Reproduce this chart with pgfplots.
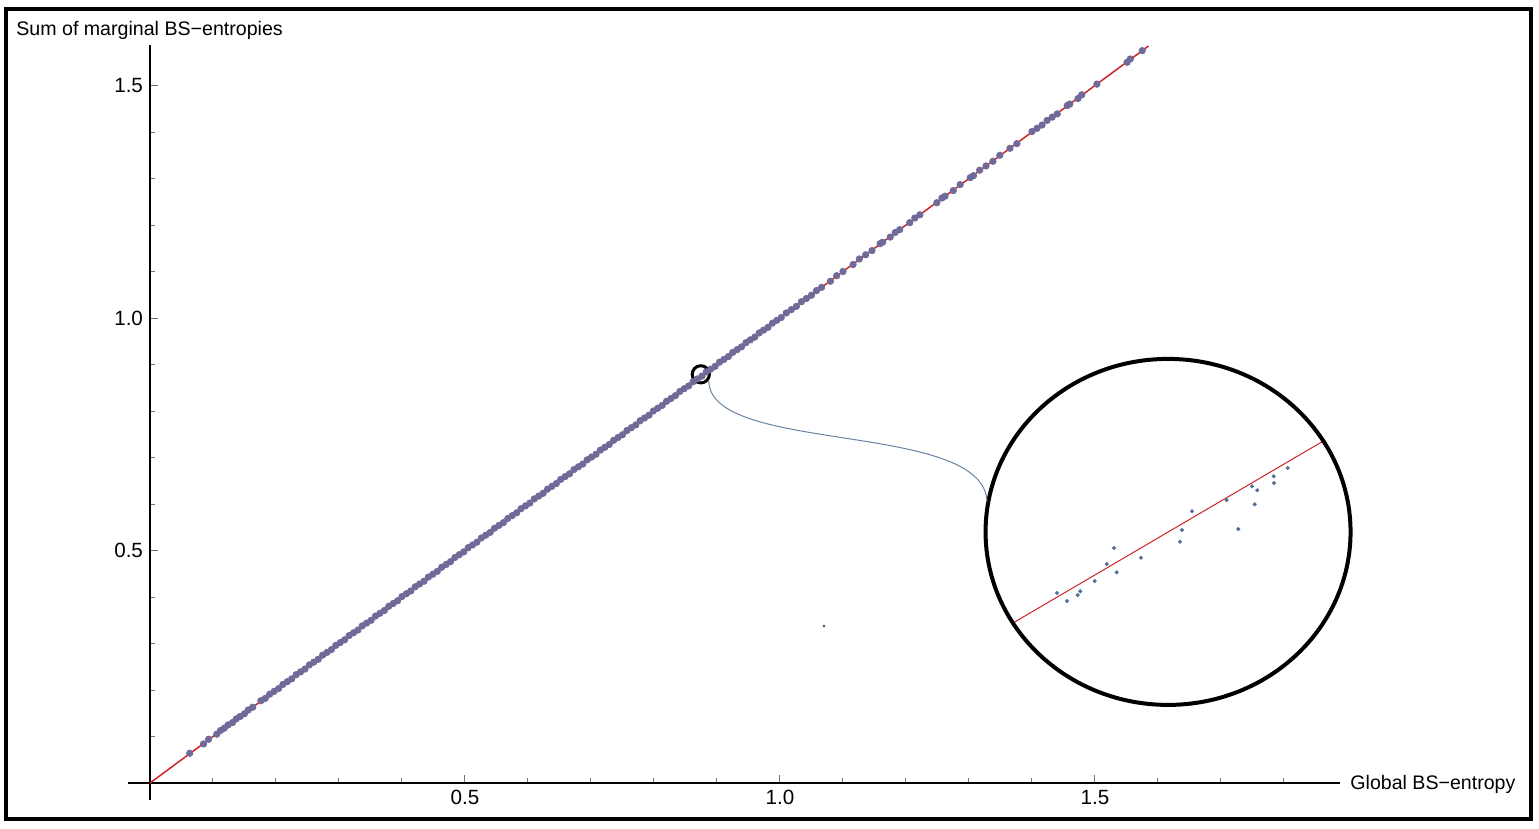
\documentclass[border=0pt]{standalone}
\usepackage{fontspec}
\setmainfont{Liberation Sans}
\usepackage{pgfplots}
\usepackage{pgfplotstable}
\pgfplotsset{compat=1.18}
\definecolor{ptblue}{RGB}{112,106,152}
\definecolor{fitred}{RGB}{206,36,40}
\definecolor{zoomblue}{RGB}{84,112,150}
\definecolor{linkblue}{RGB}{104,132,162}

% points along the diagonal: global vs. sum of marginal entropies
\pgfplotstableread{
x y
0.063 0.064
0.085 0.084
0.093 0.094
0.106 0.105
0.112 0.113
0.118 0.118
0.124 0.125
0.131 0.130
0.137 0.138
0.143 0.143
0.150 0.149
0.156 0.157
0.163 0.163
0.176 0.177
0.183 0.182
0.190 0.191
0.197 0.197
0.204 0.203
0.211 0.212
0.218 0.218
0.225 0.224
0.232 0.233
0.239 0.239
0.246 0.245
0.253 0.254
0.260 0.260
0.267 0.266
0.274 0.275
0.281 0.281
0.288 0.287
0.295 0.296
0.302 0.302
0.309 0.308
0.316 0.317
0.323 0.323
0.330 0.329
0.337 0.338
0.344 0.344
0.351 0.350
0.358 0.359
0.365 0.365
0.372 0.371
0.379 0.380
0.386 0.386
0.393 0.392
0.400 0.401
0.407 0.407
0.414 0.413
0.421 0.422
0.428 0.428
0.435 0.434
0.442 0.443
0.449 0.449
0.456 0.455
0.463 0.464
0.470 0.470
0.477 0.476
0.484 0.485
0.491 0.491
0.498 0.497
0.505 0.506
0.512 0.512
0.519 0.518
0.526 0.527
0.533 0.533
0.540 0.539
0.547 0.548
0.554 0.554
0.561 0.560
0.568 0.569
0.575 0.575
0.582 0.581
0.589 0.590
0.596 0.596
0.603 0.602
0.610 0.611
0.617 0.617
0.624 0.623
0.631 0.632
0.638 0.638
0.645 0.644
0.652 0.653
0.659 0.659
0.666 0.665
0.673 0.674
0.680 0.680
0.687 0.686
0.694 0.695
0.701 0.701
0.708 0.707
0.715 0.716
0.722 0.722
0.729 0.728
0.736 0.737
0.743 0.743
0.750 0.749
0.757 0.758
0.764 0.764
0.771 0.770
0.778 0.779
0.785 0.785
0.792 0.791
0.799 0.800
0.806 0.806
0.813 0.812
0.820 0.821
0.827 0.827
0.834 0.833
0.841 0.842
0.848 0.848
0.855 0.854
0.862 0.863
0.869 0.869
0.876 0.875
0.883 0.884
0.890 0.890
0.897 0.896
0.904 0.905
0.911 0.911
0.918 0.917
0.925 0.926
0.932 0.932
0.939 0.938
0.946 0.947
0.953 0.953
0.960 0.959
0.967 0.968
0.974 0.974
0.981 0.980
0.988 0.989
0.995 0.995
1.002 1.001
1.010 1.011
1.018 1.018
1.026 1.025
1.034 1.035
1.042 1.042
1.050 1.049
1.058 1.059
1.066 1.066
1.080 1.079
1.090 1.091
1.100 1.100
1.116 1.115
1.126 1.127
1.136 1.136
1.146 1.145
1.159 1.160
1.163 1.163
1.175 1.174
1.183 1.184
1.190 1.190
1.206 1.205
1.214 1.215
1.222 1.222
1.249 1.248
1.257 1.258
1.262 1.262
1.275 1.274
1.286 1.287
1.302 1.302
1.307 1.306
1.317 1.318
1.327 1.327
1.338 1.337
1.349 1.350
1.365 1.365
1.376 1.375
1.400 1.401
1.408 1.408
1.416 1.415
1.424 1.425
1.432 1.432
1.440 1.439
1.456 1.457
1.460 1.460
1.473 1.472
1.479 1.480
1.503 1.503
1.551 1.550
1.556 1.557
1.575 1.575
}\diagdata

% magnified view inside the big circle (drawn in the axis coordinates of the inset)
\pgfplotstableread{
x y
1.4397 0.4086
1.4556 0.3914
1.4725 0.4043
1.4767 0.4123
1.4995 0.4344
1.5186 0.4710
1.5302 0.5054
1.5344 0.4531
1.5730 0.4845
1.6349 0.5189
1.6381 0.5441
1.6540 0.5843
1.7090 0.6086
1.7275 0.5462
1.7492 0.6381
1.7576 0.6295
1.7535 0.5994
1.7837 0.6596
1.7841 0.6452
1.8059 0.6774
}\zoomdata

\begin{document}
\begin{tikzpicture}
\begin{axis}[
 x=315pt,y=232.5pt,
 xmin=-0.035,xmax=1.889,ymin=-0.037,ymax=1.587,
 axis lines=middle,axis line style={line width=1pt,-},
 clip=false,
 xtick={0.5,1,1.5},ytick={0.5,1,1.5},
 minor xtick={0.1,0.2,0.3,0.4,0.6,0.7,0.8,0.9,1.1,1.2,1.3,1.4,1.6,1.7,1.8},
 minor ytick={0.1,0.2,0.3,0.4,0.6,0.7,0.8,0.9,1.1,1.2,1.3,1.4},
 tick align=inside,
 major tick length=4pt,minor tick length=2.5pt,
 tick style={black!55,line width=0.5pt},
 tick label style={font=\fontsize{10.3}{12}\selectfont},
 /pgf/number format/.cd,fixed,fixed zerofill,precision=1,assume math mode=true,
]
\addplot[only marks,mark=*,mark size=1.6pt,ptblue,mark options={draw=none,fill=ptblue}] table[x=x,y=y]{\diagdata};
\addplot[fitred,line width=0.75pt] coordinates {(0,0) (1.585,1.585)};

% inset
\addplot[fitred,line width=0.5pt] coordinates {(1.3698,0.3441) (1.8651,0.7376)};
\addplot[only marks,mark=*,mark size=0.8pt,zoomblue,mark options={draw=none,fill=zoomblue}] table[x=x,y=y]{\zoomdata};
\addplot[only marks,mark=*,mark size=0.45pt,black!70,mark options={draw=none}] coordinates {(1.0698,0.3376)};

\draw[line width=2pt] (axis cs:1.616,0.540) ellipse [x radius=91.25pt,y radius=86.5pt];
\draw[line width=1.5pt] (axis cs:0.8743,0.8789) circle [radius=4.3pt];
\draw[linkblue,line width=0.5pt] (axis cs:0.887,0.8645) .. controls (axis cs:0.889,0.7054) and (axis cs:1.3254,0.7806) .. (axis cs:1.3286,0.6043);

\node[anchor=west,inner sep=0pt,font=\fontsize{9.8}{12}\selectfont] at (axis cs:-0.2127,1.6194) {Sum of marginal BS−entropies};
\node[anchor=west,inner sep=0pt,font=\fontsize{9.8}{12}\selectfont] at (axis cs:1.9048,-0.002) {Global BS−entropy};

\draw[line width=2pt] (axis cs:-0.2286,1.6652) rectangle (axis cs:2.1921,-0.0774);
\path (axis cs:-0.2381,1.6839) rectangle (axis cs:2.2048,-0.0968);
\end{axis}
\end{tikzpicture}
\end{document}
